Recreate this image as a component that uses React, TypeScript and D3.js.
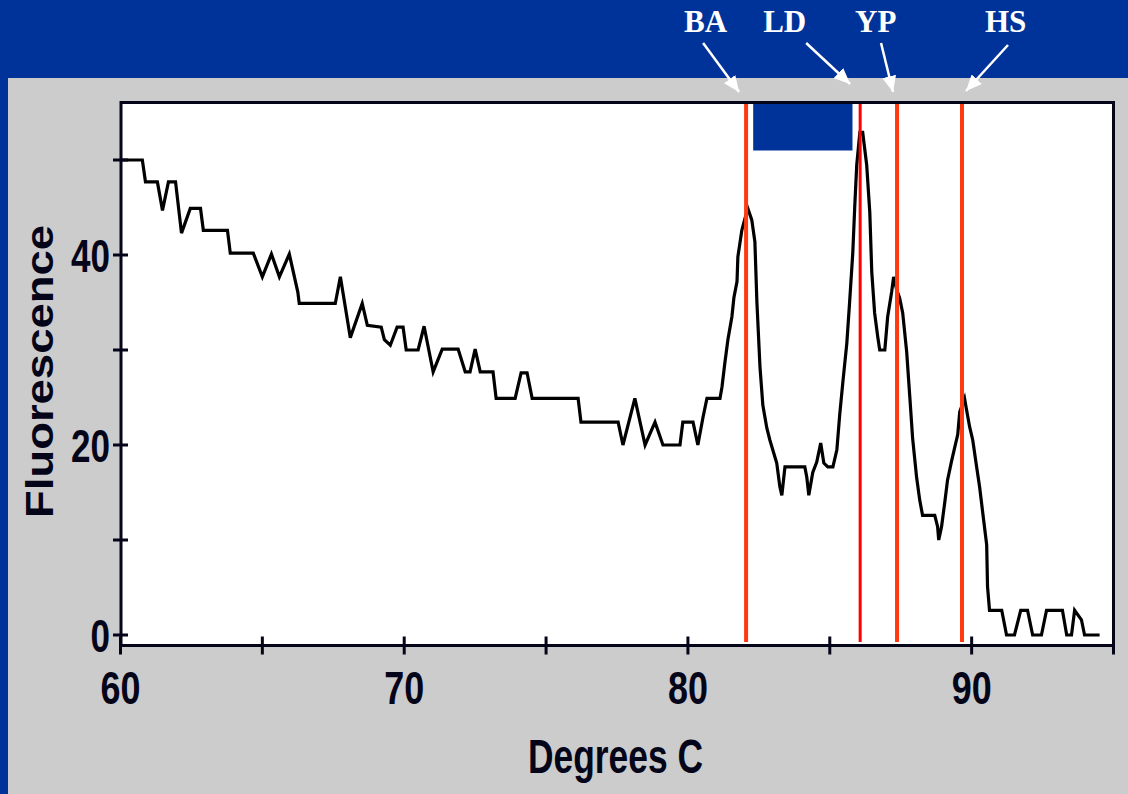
import * as d3 from "d3";

// melt curve
const temps = [
  60.0, 60.77, 60.88, 61.3, 61.48, 61.69, 61.94, 62.15, 62.46, 62.82,
  62.92, 63.77, 63.87, 64.68, 65.0, 65.32, 65.6, 65.95, 66.25, 66.3,
  67.57, 67.75, 68.1, 68.52, 68.7, 69.19, 69.3, 69.51, 69.75, 69.96,
  70.07, 70.49, 70.7, 71.02, 71.34, 71.9, 72.15, 72.32, 72.5, 72.68,
  73.13, 73.24, 73.91, 74.12, 74.33, 74.51, 76.13, 76.23, 77.54, 77.71,
  78.13, 78.49, 78.84, 79.12, 79.72, 79.82, 80.18, 80.35, 80.53, 80.67,
  81.13, 81.2, 81.3, 81.41, 81.55, 81.62, 81.73, 81.76, 81.9, 81.97,
  82.11, 82.25, 82.36, 82.43, 82.54, 82.64, 82.78, 82.89, 82.99, 83.13,
  83.24, 83.31, 83.42, 84.12, 84.19, 84.26, 84.4, 84.54, 84.68, 84.79,
  84.93, 85.11, 85.25, 85.35, 85.46, 85.6, 85.7, 85.81, 85.88, 85.95,
  86.06, 86.16, 86.3, 86.41, 86.48, 86.58, 86.69, 86.76, 86.94, 87.04,
  87.18, 87.25, 87.36, 87.46, 87.57, 87.71, 87.82, 87.92, 88.06, 88.17,
  88.27, 88.7, 88.8, 88.84, 88.94, 89.05, 89.15, 89.3, 89.4, 89.51,
  89.58, 89.75, 89.82, 89.93, 90.04, 90.18, 90.28, 90.39, 90.53, 90.56,
  90.63, 91.06, 91.23, 91.51, 91.73, 91.97, 92.15, 92.46, 92.64, 93.2,
  93.35, 93.52, 93.63, 93.87, 93.98, 94.51,
];
const fluor = [
  50.0, 50.0, 47.7, 47.7, 44.7, 47.7, 47.7, 42.3, 44.9, 44.9,
  42.6, 42.6, 40.2, 40.2, 37.7, 40.1, 37.7, 40.1, 36.1, 34.9,
  34.9, 37.7, 31.3, 34.9, 32.6, 32.4, 31.1, 30.5, 32.4, 32.4,
  30.0, 30.0, 32.5, 27.7, 30.1, 30.1, 27.7, 27.7, 30.1, 27.7,
  27.7, 24.9, 24.9, 27.6, 27.6, 24.9, 24.9, 22.4, 22.4, 20.0,
  24.9, 20.0, 22.4, 20.0, 20.0, 22.4, 22.4, 20.0, 22.9, 24.9,
  24.9, 26.1, 28.6, 31.1, 33.5, 35.5, 37.2, 39.8, 42.6, 43.4,
  44.9, 43.7, 41.4, 35.1, 28.2, 24.2, 21.8, 20.5, 19.5, 18.1,
  15.6, 14.7, 17.7, 17.7, 16.6, 14.7, 17.1, 18.2, 20.2, 18.1,
  17.7, 17.7, 19.5, 23.2, 26.6, 30.7, 35.1, 40.2, 45.1, 49.5,
  52.9, 52.9, 49.5, 44.5, 38.2, 33.9, 31.4, 30.0, 30.0, 33.5,
  36.1, 37.7, 36.3, 35.5, 33.9, 29.8, 25.1, 20.7, 16.6, 14.2,
  12.6, 12.6, 11.4, 10.0, 11.4, 13.9, 16.3, 18.4, 19.7, 21.1,
  23.5, 24.9, 23.7, 21.9, 20.5, 17.6, 15.6, 12.9, 9.5, 5.1,
  2.6, 2.6, 0, 0, 2.6, 2.6, 0, 0, 2.6, 2.6,
  0, 0, 2.6, 1.6, 0, 0,
];

const xTicks = [60, 65, 70, 75, 80, 85, 90, 95];
const xLabels = [60, 70, 80, 90];
const yTicks = [0, 10, 20, 30, 40, 50];
const yLabels = [0, 20, 40];

const markerNames = ["BA", "LD", "YP", "HS"];
const markerTemps = [82.05, 86.07, 87.37, 89.66];
const bandTemps = [82.3, 85.8];
const bandFloor = 51;

const W = 1128;
const H = 794;
const navy = "#003399";
const ink = "#05051a";
const font = "'Liberation Sans', Arial, sans-serif";

// label/arrow placement relative to each marker line (px)
const annot = [
  { lx: -62, tail: [-43, 43], tip: [-7, 92] },
  { lx: -97, tail: [-54, 43], tip: [-10, 84] },
  { lx: -42, tail: [-16, 43], tip: [-4, 92] },
  { lx: 23, tail: [46, 45], tip: [4, 91] },
];

export default function App() {
  const box = { left: 121, right: 1113.5, top: 102.5, bottom: 645.5 };
  const x = d3.scaleLinear().domain([60, 95]).range([120.5, 1113.5]);
  const y = d3.scaleLinear().domain([0, 50]).range([635, 160]);

  const line = d3
    .line<number>()
    .x((_, i) => x(temps[i]))
    .y((d) => y(d));

  return (
    <div style={{ position: "absolute", left: 0, top: 0 }}>
      <svg width={W} height={H} style={{ display: "block" }}>
        <defs>
          <marker
            id="ah"
            viewBox="0 0 16 14"
            refX={16}
            refY={7}
            markerWidth={16}
            markerHeight={14}
            markerUnits="userSpaceOnUse"
            orient="auto"
          >
            <path d="M0,0 L16,7 L0,14 Z" fill="#fff" />
          </marker>
        </defs>

        <rect width={W} height={H} fill="#cccccc" />
        <rect width={W} height={78} fill={navy} />
        <rect width={8} height={H} fill={navy} />

        {/* plot area */}
        <rect
          x={box.left}
          y={box.top}
          width={box.right - box.left}
          height={box.bottom - box.top}
          fill="#fff"
        />

        <rect
          x={x(bandTemps[0])}
          y={box.top}
          width={x(bandTemps[1]) - x(bandTemps[0])}
          height={y(bandFloor) - box.top}
          fill={navy}
        />

        <path
          d={line(fluor) || ""}
          fill="none"
          stroke="#000"
          strokeWidth={3.2}
          strokeLinejoin="miter"
        />

        {markerTemps.map((t, i) => (
          <line
            key={markerNames[i]}
            x1={x(t)}
            x2={x(t)}
            y1={box.top - 1}
            y2={642}
            stroke={i === 1 ? "#ff0000" : "#ff3a10"}
            strokeWidth={i === 1 ? 3 : 4}
          />
        ))}

        {/* frame */}
        <rect
          x={box.left}
          y={box.top}
          width={box.right - box.left}
          height={box.bottom - box.top}
          fill="none"
          stroke={ink}
          strokeWidth={3}
        />

        {xTicks.map((t) => (
          <line
            key={"xt" + t}
            x1={x(t)}
            x2={x(t)}
            y1={box.bottom - 9}
            y2={box.bottom + 9}
            stroke={ink}
            strokeWidth={3}
          />
        ))}
        {yTicks.map((t) => (
          <line
            key={"yt" + t}
            x1={box.left - 8}
            x2={box.left + 7}
            y1={y(t)}
            y2={y(t)}
            stroke={ink}
            strokeWidth={3}
          />
        ))}

        {xLabels.map((t) => (
          <text
            key={"xl" + t}
            x={x(t)}
            y={704}
            textAnchor="middle"
            fontFamily={font}
            fontWeight="bold"
            fontSize={46}
            textLength={40}
            lengthAdjust="spacingAndGlyphs"
            fill={ink}
          >
            {t}
          </text>
        ))}
        {yLabels.map((t) => (
          <text
            key={"yl" + t}
            x={110}
            y={y(t) + 17}
            textAnchor="end"
            fontFamily={font}
            fontWeight="bold"
            fontSize={46}
            textLength={String(t).length * 19.5}
            lengthAdjust="spacingAndGlyphs"
            fill={ink}
          >
            {t}
          </text>
        ))}

        <text
          x={615.5}
          y={773}
          textAnchor="middle"
          fontFamily={font}
          fontWeight="bold"
          fontSize={49}
          textLength={175}
          lengthAdjust="spacingAndGlyphs"
          fill={ink}
        >
          Degrees C
        </text>
        <text
          transform="translate(52.5,371.5) rotate(-90)"
          textAnchor="middle"
          fontFamily={font}
          fontWeight="bold"
          fontSize={38}
          textLength={293}
          lengthAdjust="spacingAndGlyphs"
          fill={ink}
        >
          Fluorescence
        </text>

        {/* marker annotations */}
        {markerTemps.map((t, i) => {
          const a = annot[i];
          const mx = x(t);
          return (
            <g key={"an" + i}>
              <text
                x={mx + a.lx}
                y={32}
                fontFamily="'Liberation Serif', 'Times New Roman', serif"
                fontWeight="bold"
                fontSize={31}
                fill="#fff"
              >
                {markerNames[i]}
              </text>
              <line
                x1={mx + a.tail[0]}
                y1={a.tail[1]}
                x2={mx + a.tip[0]}
                y2={a.tip[1]}
                stroke="#fff"
                strokeWidth={2.5}
                markerEnd="url(#ah)"
              />
            </g>
          );
        })}
      </svg>
    </div>
  );
}
